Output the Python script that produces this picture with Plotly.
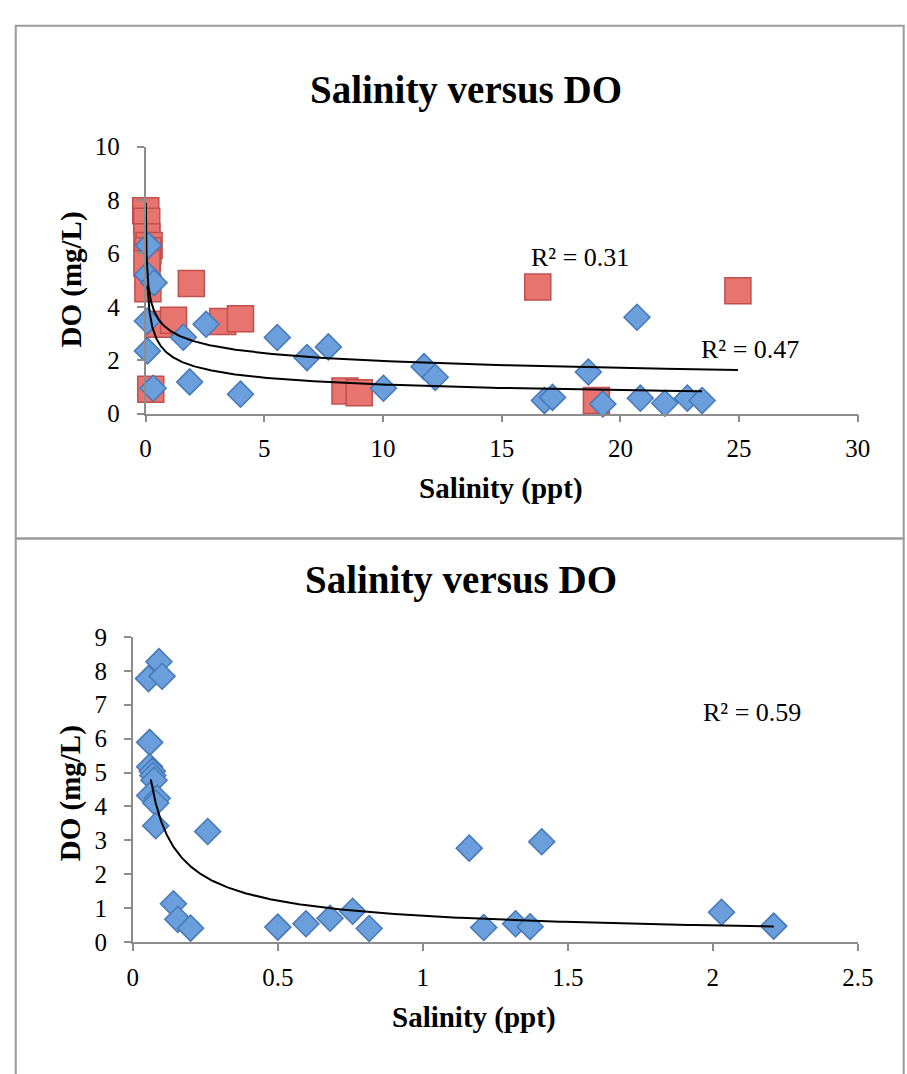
import numpy as np
import plotly.graph_objects as go

# ---------------- data ----------------
# Top chart (two series)
top_red_x = [0.01, 0.05, 0.06, 0.15, 0.10, 0.08, 0.06, 0.10, 0.22, 0.56, 1.18, 1.93,
             3.25, 4.00, 8.40, 9.00, 16.52, 18.99, 24.95]
top_red_y = [7.60, 7.20, 6.62, 6.30, 6.10, 5.85, 5.62, 4.68, 0.91, 3.35, 3.50, 4.87,
             3.45, 3.55, 0.85, 0.78, 4.74, 0.49, 4.60]

top_blue_x = [0.12, 0.08, 0.36, 0.08, 0.08, 0.32, 1.59, 1.86, 2.55, 4.00, 5.55, 6.80,
              7.70, 10.02, 11.73, 12.20, 16.80, 17.14, 18.65, 19.26, 20.70, 20.84,
              21.87, 22.82, 23.44]
top_blue_y = [6.30, 5.20, 4.90, 3.47, 2.35, 0.95, 2.86, 1.19, 3.35, 0.73, 2.85, 2.10,
              2.50, 0.95, 1.76, 1.36, 0.49, 0.61, 1.56, 0.36, 3.61, 0.58, 0.39, 0.58, 0.49]

# Bottom chart (one series)
bot_x = [0.090, 0.054, 0.101, 0.058, 0.058, 0.067, 0.069, 0.073, 0.058, 0.084, 0.079,
         0.079, 0.258, 0.140, 0.155, 0.199, 0.500, 0.597, 0.680, 0.758, 0.815,
         1.160, 1.210, 1.320, 1.370, 1.410, 2.030, 2.210]
bot_y = [8.27, 7.77, 7.84, 5.89, 5.17, 5.04, 4.91, 4.77, 4.32, 4.24, 4.10,
         3.43, 3.26, 1.13, 0.67, 0.41, 0.44, 0.54, 0.70, 0.91, 0.40,
         2.77, 0.43, 0.54, 0.45, 2.96, 0.88, 0.47]

# Power trendlines (y = a * x^b) as shown by the spreadsheet
top_red_fit = {"a": 3.13, "b": -0.201, "xmin": 0.01, "xmax": 24.95, "r2": "0.31"}
top_blue_fit = {"a": 2.21, "b": -0.307, "xmin": 0.08, "xmax": 23.44, "r2": "0.47"}
bot_fit = {"a": 0.774, "b": -0.656, "xmin": 0.062, "xmax": 2.21, "r2": "0.59"}

title_text = "Salinity versus DO"
x_title = "Salinity (ppt)"
y_title = "DO (mg/L)"

# ---------------- styling ----------------
W, H = 907, 1074
SERIF = "Liberation Serif, DejaVu Serif, serif"
BLUE_FILL, BLUE_LINE = "#6A9FDB", "#4677B8"
RED_FILL, RED_LINE = "#E7746F", "#C0504D"
AXIS_COL = "#8C8C8C"


def px_x(p):
    return p / W


def px_y(p):
    return 1 - p / H


def curve(fit):
    xs = np.geomspace(fit["xmin"], fit["xmax"], 300)
    return xs, fit["a"] * xs ** fit["b"]


fig = go.Figure()

# top chart
fig.add_trace(go.Scatter(x=top_red_x, y=top_red_y, mode="markers", xaxis="x", yaxis="y",
                         marker=dict(symbol="square", size=26, color=RED_FILL,
                                     line=dict(color=RED_LINE, width=1.5)),
                         cliponaxis=False, showlegend=False))
fig.add_trace(go.Scatter(x=top_blue_x, y=top_blue_y, mode="markers", xaxis="x", yaxis="y",
                         marker=dict(symbol="diamond", size=20, color=BLUE_FILL,
                                     line=dict(color=BLUE_LINE, width=1.5)),
                         cliponaxis=False, showlegend=False))
for f in (top_red_fit, top_blue_fit):
    cx, cy = curve(f)
    fig.add_trace(go.Scatter(x=cx, y=cy, mode="lines", xaxis="x", yaxis="y",
                             line=dict(color="black", width=2), cliponaxis=False,
                             showlegend=False))

# bottom chart
fig.add_trace(go.Scatter(x=bot_x, y=bot_y, mode="markers", xaxis="x2", yaxis="y2",
                         marker=dict(symbol="diamond", size=20, color=BLUE_FILL,
                                     line=dict(color=BLUE_LINE, width=1.5)),
                         cliponaxis=False, showlegend=False))
cx, cy = curve(bot_fit)
fig.add_trace(go.Scatter(x=cx, y=cy, mode="lines", xaxis="x2", yaxis="y2",
                         line=dict(color="black", width=2), cliponaxis=False,
                         showlegend=False))

axis_common = dict(showgrid=False, zeroline=False, showline=True, linecolor=AXIS_COL,
                   linewidth=1.5, ticks="outside", ticklen=7, tickcolor=AXIS_COL,
                   tickwidth=1.5, tickfont=dict(family=SERIF, size=25, color="black"))

fig.update_layout(
    width=W, height=H, margin=dict(l=0, r=0, t=0, b=0),
    paper_bgcolor="white", plot_bgcolor="rgba(0,0,0,0)",
    xaxis=dict(domain=[px_x(143), px_x(873)], range=[0, 30], dtick=5, anchor="y",
               ticklabelstandoff=5, **axis_common),
    yaxis=dict(domain=[px_y(411), px_y(137)], range=[0, 10], dtick=2, anchor="x",
               ticklabelstandoff=12, **axis_common),
    xaxis2=dict(domain=[px_x(130), px_x(873)], range=[0, 2.5], dtick=0.5, anchor="y2",
                ticklabelstandoff=5, **axis_common),
    yaxis2=dict(domain=[px_y(953), px_y(640)], range=[0, 9], dtick=1, anchor="x2",
                ticklabelstandoff=12, **axis_common),
)

# panel borders
fig.add_shape(type="rect", xref="paper", yref="paper",
              x0=px_x(10), x1=px_x(920), y0=px_y(539), y1=px_y(13),
              line=dict(color="#9A9A9A", width=2), layer="below")
fig.add_shape(type="rect", xref="paper", yref="paper",
              x0=px_x(10), x1=px_x(920), y0=px_y(1090), y1=px_y(539),
              line=dict(color="#9A9A9A", width=2), layer="below")

ann = []
# titles
ann.append(dict(text=f"<b>{title_text}</b>", x=px_x(471), y=px_y(79), xref="paper",
                yref="paper", showarrow=False, xanchor="center", yanchor="middle",
                font=dict(family=SERIF, size=39, color="black")))
ann.append(dict(text=f"<b>{title_text}</b>", x=px_x(466), y=px_y(582), xref="paper",
                yref="paper", showarrow=False, xanchor="center", yanchor="middle",
                font=dict(family=SERIF, size=39, color="black")))
# axis titles
for (xx, yy) in [(507, 488), (480, 1030)]:
    ann.append(dict(text=f"<b>{x_title}</b>", x=px_x(xx), y=px_y(yy), xref="paper",
                    yref="paper", showarrow=False, xanchor="center", yanchor="middle",
                    font=dict(family=SERIF, size=29, color="black")))
for (xx, yy) in [(67, 273), (67, 800)]:
    ann.append(dict(text=f"<b>{y_title}</b>", x=px_x(xx), y=px_y(yy), xref="paper",
                    yref="paper", showarrow=False, xanchor="center", yanchor="middle",
                    textangle=-90, font=dict(family=SERIF, size=29, color="black")))
# R^2 labels
for (txt, xx, yy) in [(top_red_fit["r2"], 588, 251), (top_blue_fit["r2"], 762, 345),
                      (bot_fit["r2"], 765, 718)]:
    ann.append(dict(text=f"R² = {txt}", x=px_x(xx), y=px_y(yy), xref="paper",
                    yref="paper", showarrow=False, xanchor="center", yanchor="middle",
                    font=dict(family=SERIF, size=26, color="black")))
fig.update_layout(annotations=ann)

fig.write_html("out.html")
